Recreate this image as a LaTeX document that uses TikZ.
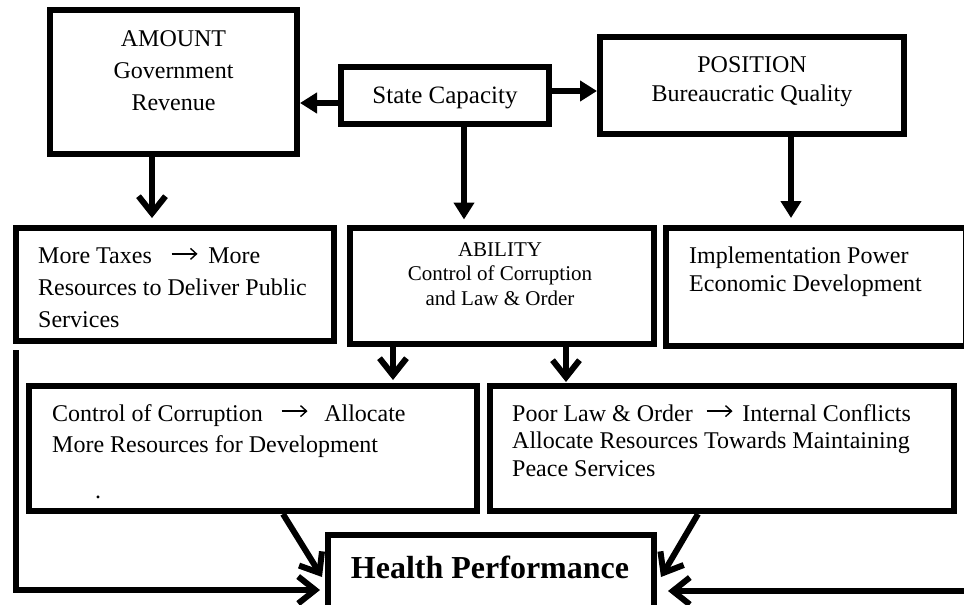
\documentclass[tikz,border=0pt]{standalone}
\usepackage{fontspec}
\setmainfont{Liberation Serif}
\usetikzlibrary{arrows.meta,calc}
\newcommand{\txtarrow}{\tikz[baseline=-10pt]\draw[line width=1.4pt,-{Straight Barb[length=6pt,width=11pt,line width=1.4pt]}] (0pt,0pt) -- (26pt,0pt);}
\begin{document}
\begin{tikzpicture}[x=1pt,y=-1pt]
\tikzset{
  box/.style={draw, line width=6pt, inner sep=0pt, rectangle},
  tri/.style={line width=6pt, -{Triangle[length=17pt,width=20pt]}},
  barb/.style={line width=6pt, -{Straight Barb[length=17pt,width=27pt]}},
  txt/.style={inner sep=0pt, font=\fontsize{24pt}{32pt}\selectfont},
}
\useasboundingbox (0,0) rectangle (964,605);
% boxes
\node[box, minimum width=247pt, minimum height=144pt] (amount) at (173.5,82) {};
\node[box, minimum width=208pt, minimum height=57pt] (sc) at (445,95.5) {};
\node[box, minimum width=304pt, minimum height=97pt] (pos) at (752,85.5) {};
\node[box, minimum width=318pt, minimum height=113pt] (taxes) at (175,284.5) {};
\node[box, minimum width=304pt, minimum height=116pt] (ability) at (502,285.5) {};
\node[box, minimum width=300pt, minimum height=118pt] (impl) at (816,287) {};
\node[box, minimum width=448pt, minimum height=125pt] (control) at (253,448.5) {};
\node[box, minimum width=464pt, minimum height=125pt] (poor) at (722,448.5) {};
\node[box, minimum width=326pt, minimum height=80pt] (health) at (491,575) {};
% texts
\node[txt, align=center] (tamount) at (173.5,70.5) {AMOUNT\\Government\\Revenue};
\node[txt, font=\fontsize{25pt}{30pt}\selectfont] (tsc) at (445,98) {State Capacity};
\node[txt, align=center, font=\fontsize{24pt}{29pt}\selectfont] (tpos) at (752,81.5) {POSITION\\Bureaucratic Quality};
\node[txt, align=left, anchor=north west] (ttaxes) at (38,247.5) {More Taxes\hspace{19pt}\txtarrow\hspace{10pt}More\\Resources to Deliver Public\\Services};
\node[txt, align=center, font=\fontsize{21pt}{24.5pt}\selectfont] (tability) at (500,274) {ABILITY\\Control of Corruption\\and Law \& Order};
\node[txt, align=left, anchor=north west, font=\fontsize{24pt}{28pt}\selectfont] (timpl) at (689,247) {Implementation Power\\Economic Development};
\node[txt, align=left, anchor=north west, font=\fontsize{24pt}{31pt}\selectfont] (tcontrol) at (52,404) {Control of Corruption\hspace{18pt}\txtarrow\hspace{16pt}Allocate\\More Resources for Development};
\node[txt, anchor=base] (tdot) at (98,498) {.};
\node[txt, align=left, anchor=north west, font=\fontsize{24pt}{27.5pt}\selectfont] (tpoor) at (512,404) {Poor Law \& Order\hspace{13pt}\txtarrow\hspace{9pt}Internal Conflicts\\Allocate Resources Towards Maintaining\\Peace Services};
\node[txt, font=\fontsize{32pt}{38pt}\selectfont\bfseries] (thealth) at (490,567) {Health Performance};
% helper coordinates
\coordinate (xsc) at (464,0);
\coordinate (xam) at (152,0);
\coordinate (xpo) at (791,0);
\coordinate (xab1) at (393,0);
\coordinate (xab2) at (566,0);
\coordinate (xd1) at (283,0);
\coordinate (xd2) at (698,0);
\coordinate (h1) at (322,577);
\coordinate (h2) at (661,577);
\coordinate (lfeed) at (16,350);
\coordinate (rfeed) at (975,591);
\coordinate (yfeed) at (0,590);
\coordinate (yfeedr) at (0,591);
% connectors
\draw[tri] ([yshift=-7.5pt]sc.west) -- ([yshift=-7.5pt]sc.west -| amount.east);
\draw[tri] ([yshift=4.5pt]sc.east) -- ([yshift=4.5pt]sc.east -| pos.west);
\draw[tri, shorten >=5pt] (sc.south -| xsc) -- (ability.north -| xsc);
\draw[tri, shorten >=7pt] (pos.south -| xpo) -- (impl.north -| xpo);
\draw[barb, shorten >=7pt] (amount.south -| xam) -- (taxes.north -| xam);
\draw[barb, shorten >=3pt] (ability.south -| xab1) -- (control.north -| xab1);
\draw[barb, shorten >=1pt] (ability.south -| xab2) -- (poor.north -| xab2);
\draw[barb] (control.south -| xd1) -- (h1);
\draw[barb] (poor.south -| xd2) -- (h2);
\draw[barb, shorten >=5pt] (lfeed) |- (health.west |- yfeed);
\draw[barb, shorten >=11pt] (rfeed) -- (health.east |- yfeedr);
\end{tikzpicture}
\end{document}
